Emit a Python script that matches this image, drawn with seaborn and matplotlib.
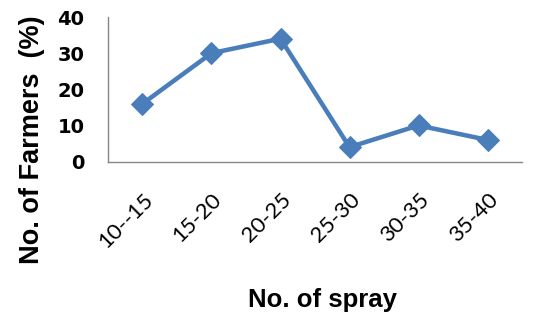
import pandas as pd
import seaborn as sns
import matplotlib.pyplot as plt

# Data
spray_classes = ['10--15', '15-20', '20-25', '25-30', '30-35', '35-40']
farmers_pct = [16, 30, 34, 4, 10, 6]

df = pd.DataFrame({'spray': spray_classes, 'pct': farmers_pct})

sns.set_style('white', {'text.color': 'black', 'axes.labelcolor': 'black',
                        'xtick.color': 'black', 'ytick.color': 'black'})
plt.rcParams['font.family'] = ['Lato', 'DejaVu Sans']

fig = plt.figure(figsize=(5.33, 3.15), dpi=100)
ax = fig.add_axes([0.2026, 0.487, 0.7768, 0.459])

sns.lineplot(data=df, x='spray', y='pct', ax=ax, color='#4A7EBB', linewidth=3.25,
             marker='D', markersize=11, markeredgecolor='#4A7EBB', sort=False)

ax.set_xlim(-0.5, len(spray_classes) - 0.5)
ax.set_ylim(0, 40)
ax.set_yticks(range(0, 41, 10))
ax.set_yticklabels([str(v) for v in range(0, 41, 10)], fontweight='bold', fontsize=14,
                   family='DejaVu Sans')

# category labels at centres, tick marks on category boundaries
ax.set_xticks(range(len(spray_classes)))
ax.set_xticklabels(spray_classes, rotation=45, ha='right', rotation_mode='anchor', fontsize=16)
ax.set_xticks([i - 0.5 for i in range(len(spray_classes) + 1)], minor=True)
ax.tick_params(axis='x', which='major', length=0, pad=20, labelcolor='black')
ax.tick_params(axis='x', which='minor', length=6, color='#868686', width=1, direction='out')
ax.tick_params(axis='y', length=6, color='#868686', width=1, direction='out', pad=11,
               labelcolor='black')

for s in ['top', 'right']:
    ax.spines[s].set_visible(False)
for s in ['left', 'bottom']:
    ax.spines[s].set_color('#868686')
    ax.spines[s].set_linewidth(1)

ax.set_xlabel('No. of spray', fontsize=18.5, fontweight='bold', family='Liberation Sans',
              color='black')
ax.set_ylabel('No. of Farmers  (%)', fontsize=19.5, fontweight='bold', family='Liberation Sans',
              color='black')
ax.xaxis.set_label_coords(0.518, -0.875)
ax.yaxis.set_label_coords(-0.153, 0.153)

plt.savefig('out.png', dpi=100)
